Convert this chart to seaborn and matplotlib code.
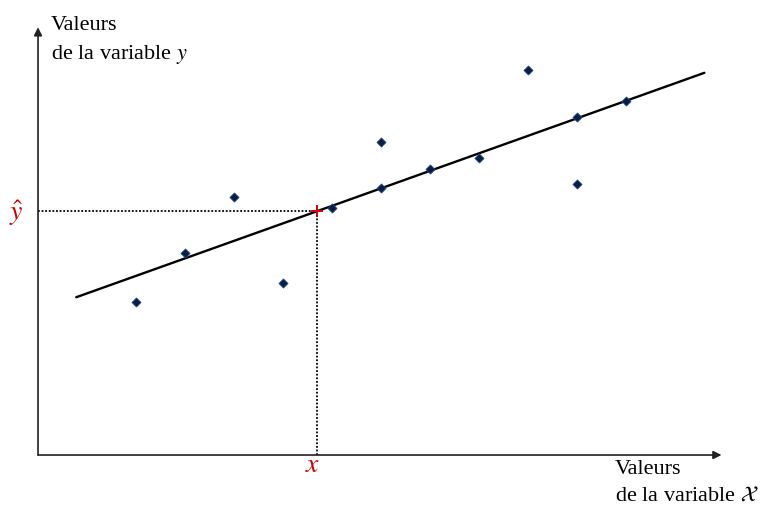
import matplotlib
matplotlib.use("Agg")
import matplotlib.pyplot as plt
import seaborn as sns
import pandas as pd

# Data (arbitrary units)
x_vals = [2, 3, 4, 5, 6, 7, 7, 8, 9, 10, 11, 11, 12]
y_vals = [3.12, 4.12, 5.27, 3.51, 5.04, 6.39, 5.45, 5.84, 6.06, 7.86, 6.90, 5.53, 7.22]
line_x = [0.78, 13.6]
line_y = [3.22, 7.80]
x_star = 5.69
y_hat = 4.99

sns.set_theme(style="white")
plt.rcParams['font.family'] = ['Liberation Serif', 'DejaVu Serif']
plt.rcParams['mathtext.fontset'] = 'stix'

fig = plt.figure(figsize=(7.72, 5.07), dpi=100)
ax = fig.add_axes([0, 0, 1, 1])
ax.set_xlim(-0.776, 14.98)
ax.set_ylim(-1.061, 9.286)
ax.axis('off')

df = pd.DataFrame({'x': x_vals, 'y': y_vals})
sns.lineplot(x=line_x, y=line_y, ax=ax, color='black', linewidth=1.7, zorder=2)
sns.scatterplot(data=df, x='x', y='y', ax=ax, marker='D', s=22,
                color='#0b1d3f', edgecolor='#1d4f9a', linewidth=0.5, zorder=3)

# dotted guides
ax.plot([0, x_star], [y_hat, y_hat], color='black', linestyle=(0, (1, 1)), linewidth=1.3, zorder=1)
ax.plot([x_star, x_star], [0, y_hat], color='black', linestyle=(0, (1, 1)), linewidth=1.3, zorder=1)
ax.scatter([x_star], [y_hat], marker='+', s=80, color='#d40000', linewidths=1.4, zorder=4)

# axes arrows
ax.annotate('', xy=(13.95, 0), xytext=(0, 0),
            arrowprops=dict(arrowstyle='-|>', color='#222222', lw=1.2, mutation_scale=12,
                            shrinkA=0, shrinkB=0))
ax.annotate('', xy=(0, 8.73), xytext=(0, 0),
            arrowprops=dict(arrowstyle='-|>', color='#222222', lw=1.2, mutation_scale=12,
                            shrinkA=0, shrinkB=0))

# labels
tr = ax.transAxes
def px(xp, yp):
    return (xp / 772.0, 1 - yp / 507.0)

fs = 16
ax.text(*px(51, 25), 'Valeurs', transform=tr, fontsize=fs, va='center', ha='left', color='black')
ax.text(*px(51, 55), 'de la variable $\\mathit{y}$', transform=tr, fontsize=fs, va='center', ha='left', color='black')
ax.text(*px(615, 470), 'Valeurs', transform=tr, fontsize=fs, va='center', ha='left', color='black')
ax.text(*px(615, 496), 'de la variable $\\mathcal{X}$', transform=tr, fontsize=fs, va='center', ha='left', color='black')

ax.text(*px(16, 213), '$\\hat{y}$', transform=tr, fontsize=20, va='center', ha='center', color='#c80000')
ax.text(*px(313, 466), '$x$', transform=tr, fontsize=20, va='center', ha='center', color='#c80000')

fig.savefig('out.png', dpi=100)
